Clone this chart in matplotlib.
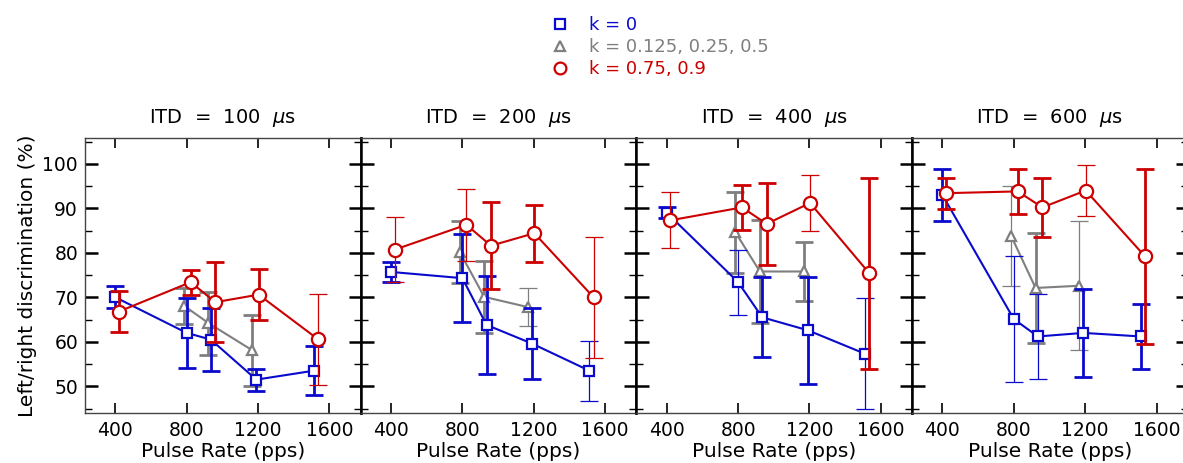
import matplotlib
matplotlib.use("Agg")
import matplotlib.pyplot as plt
from matplotlib.lines import Line2D
from matplotlib.ticker import MultipleLocator

# ---------------- data ----------------
itd_labels = ["100", "200", "400", "600"]

blue_x = [400, 800, 935, 1190, 1512]
red_x = [420, 822, 960, 1203, 1535]
gray_x = [785, 922, 1167]

blue_y = [[70.0, 62.0, 60.5, 51.5, 53.5],
          [75.7, 74.3, 63.8, 59.6, 53.5],
          [89.0, 73.4, 65.5, 62.6, 57.3],
          [93.0, 65.1, 61.2, 62.0, 61.2]]
blue_err = [[2.5, 7.8, 7.0, 2.5, 5.5],
            [2.3, 9.9, 11.0, 7.9, 6.7],
            [1.2, 7.3, 9.0, 12.0, 12.5],
            [5.9, 14.1, 9.5, 9.9, 7.4]]

red_y = [[66.8, 73.4, 68.9, 70.6, 60.6],
         [80.7, 86.3, 81.6, 84.4, 70.0],
         [87.3, 90.2, 86.5, 91.2, 75.4],
         [93.4, 93.8, 90.2, 94.0, 79.2]]
red_err = [[4.7, 2.8, 9.0, 5.7, 10.2],
           [7.3, 8.1, 9.8, 6.4, 13.6],
           [6.3, 5.0, 9.2, 6.2, 21.4],
           [3.5, 5.1, 6.7, 5.8, 19.6]]

gray_y = [[68.1, 64.2, 58.1],
          [80.2, 70.1, 67.8],
          [84.6, 75.8, 75.8],
          [83.8, 72.1, 72.6]]
gray_err = [[4.0, 7.1, 8.0],
            [7.0, 8.1, 4.2],
            [9.1, 11.5, 6.6],
            [11.2, 12.4, 14.5]]

legend_labels = ["k = 0", "k = 0.125, 0.25, 0.5", "k = 0.75, 0.9"]
x_ticks = [400, 800, 1200, 1600]
y_ticks = [50, 60, 70, 80, 90, 100]

# ---------------- style ----------------
BLUE = "#0a0acd"
GRAY = "#7f7f7f"
RED = "#cc0000"

# error-bar thickness flags (1 = thin bar)
blue_thin = [[0, 0, 0, 0, 0], [0, 0, 0, 0, 1], [0, 1, 0, 0, 1], [0, 1, 1, 0, 0]]
red_thin = [[0, 0, 0, 0, 1], [1, 1, 0, 0, 1], [1, 0, 0, 1, 0], [0, 0, 0, 1, 0]]
gray_thin = [[0, 0, 0], [0, 0, 1], [0, 0, 0], [1, 0, 1]]

plt.rcParams['font.family'] = ['DejaVu Sans']
plt.rcParams['mathtext.fontset'] = 'dejavusans'

W, H = 1183, 463
fig = plt.figure(figsize=(W / 100, H / 100), dpi=100)

left_px = 85
panel_w = 275.7
bot_px = 413
top_px = 138

series = [
    (blue_x, blue_y, blue_err, blue_thin, BLUE, "s", 7.5, 3),
    (gray_x, gray_y, gray_err, gray_thin, GRAY, "^", 7.5, 2),
    (red_x, red_y, red_err, red_thin, RED, "o", 9.5, 4),
]

for i, itd in enumerate(itd_labels):
    ax = fig.add_axes([(left_px + i * panel_w) / W, 1 - bot_px / H,
                       panel_w / W, (bot_px - top_px) / H])
    for xs, ys, es, thin, col, mk, ms, z in series:
        ax.plot(xs, ys[i], color=col, lw=1.5, zorder=z)
        for j in range(len(xs)):
            lw = 0.9 if thin[i][j] else 2.0
            ax.errorbar([xs[j]], [ys[i][j]], yerr=[es[i][j]], fmt="none",
                        ecolor=col, elinewidth=lw, capsize=6.5, capthick=lw,
                        zorder=z)
        ax.plot(xs, ys[i], linestyle="none", marker=mk, markersize=ms,
                markerfacecolor="white", markeredgecolor=col,
                markeredgewidth=1.6, zorder=z + 0.5)
    ax.set_xlim(230, 1775)
    ax.set_ylim(44, 105.8)
    ax.set_xticks(x_ticks)
    ax.set_yticks(y_ticks)
    ax.yaxis.set_minor_locator(MultipleLocator(5))
    ax.tick_params(axis="both", which="both", direction="in",
                   top=True, bottom=True, left=True, right=True,
                   labelsize=13.5, color="black")
    ax.tick_params(axis="x", which="major", length=7, width=1.2, pad=6)
    ax.tick_params(axis="y", which="major", length=9, width=1.8, pad=5)
    ax.tick_params(axis="y", which="minor", length=5, width=1.0)
    if i > 0:
        ax.tick_params(axis="y", labelleft=False)
    for s in ["top", "bottom"]:
        ax.spines[s].set_color("#444444")
        ax.spines[s].set_linewidth(1.0)
    ax.spines["left"].set_color("#444444" if i == 0 else "black")
    ax.spines["left"].set_linewidth(1.0 if i == 0 else 1.8)
    ax.spines["right"].set_color("black")
    ax.spines["right"].set_linewidth(1.8)
    ax.set_title("ITD  =  " + itd + r"  $\mu$s", fontsize=14, pad=11)
    ax.set_xlabel("Pulse Rate (pps)", fontsize=14.5, labelpad=1)
    if i == 0:
        ax.set_ylabel("Left/right discrimination (%)", fontsize=14.5,
                      labelpad=4)

handles = [
    Line2D([], [], linestyle="none", marker="s", markersize=7.5,
           markerfacecolor="white", markeredgecolor=BLUE, markeredgewidth=1.6),
    Line2D([], [], linestyle="none", marker="^", markersize=7.5,
           markerfacecolor="white", markeredgecolor=GRAY, markeredgewidth=1.6),
    Line2D([], [], linestyle="none", marker="o", markersize=8.5,
           markerfacecolor="white", markeredgecolor=RED, markeredgewidth=1.6),
]
fig.legend(handles, legend_labels, loc="upper left",
           bbox_to_anchor=(551 / W, 1 - 16 / H), frameon=False,
           fontsize=13, handlelength=1.0, handletextpad=1.1,
           labelspacing=0.22, borderpad=0, borderaxespad=0,
           labelcolor=[BLUE, GRAY, RED])

fig.savefig("out.png", dpi=100)
